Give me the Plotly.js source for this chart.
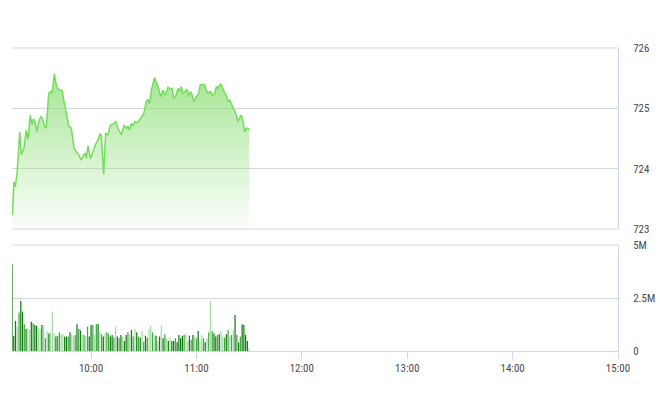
<!DOCTYPE html>
<html>
<head>
<meta charset="utf-8">
<script src="https://cdn.plot.ly/plotly-3.0.1.min.js"></script>
<style>
html,body{margin:0;padding:0;background:#fff;}
#chart{width:660px;height:412px;}
</style>
</head>
<body>
<div id="chart"></div>
<script>
// Price: minutes after 09:15, index value
const priceMinutes = [0.2,1.1,1.9,2.9,4.4,5.3,6.8,7.6,8.1,9.1,10.4,11.4,12.0,12.9,14.2,15.2,16.3,17.3,18.6,19.5,
  20.9,22.0,22.8,24.1,25.2,26.2,27.7,28.6,29.6,30.9,32.4,33.8,35.3,36.6,38.0,39.4,40.8,41.7,42.3,43.3,
  44.6,46.1,47.4,49.0,49.9,50.8,52.2,53.3,54.6,56.0,57.5,59.0,60.3,62.2,63.8,65.1,66.0,67.0,67.9,68.9,
  69.8,71.3,72.7,73.6,75.1,76.4,77.4,78.4,79.3,81.2,82.1,83.5,84.6,85.9,87.3,88.8,90.1,91.1,92.2,93.5,
  94.5,95.5,96.4,97.3,98.6,99.8,100.6,101.7,102.5,103.6,104.9,106.3,107.2,108.3,109.7,110.6,111.6,112.9,114.0,115.4,
  116.3,117.3,118.2,119.1,120.1,121.1,122.0,122.9,123.9,124.8,125.8,126.8,127.7,128.6,129.6,130.5,131.5,132.5,133.4,134.3,135.0];
const priceValues = [723.23,723.78,723.70,723.93,724.61,724.23,724.34,724.48,724.64,724.48,724.89,724.72,724.81,724.80,724.61,724.78,724.86,724.84,724.70,724.67,
  725.25,725.28,725.25,725.57,725.39,725.32,725.30,725.29,725.11,724.94,724.70,724.67,724.34,724.28,724.23,724.14,724.23,724.25,724.17,724.38,
  724.17,724.28,724.39,724.48,724.57,724.56,723.91,724.59,724.56,724.72,724.74,724.78,724.67,724.56,724.72,724.67,724.70,724.64,724.75,724.71,
  724.78,724.76,724.81,724.85,724.92,725.11,725.15,725.08,725.30,725.51,725.43,725.33,725.19,725.30,725.22,725.35,725.32,725.33,725.17,725.22,
  725.33,725.28,725.36,725.25,725.28,725.32,725.19,725.28,725.22,725.11,725.19,725.25,725.39,725.40,725.39,725.30,725.25,725.28,725.22,725.25,
  725.36,725.33,725.39,725.40,725.33,725.25,725.22,725.11,725.14,725.08,725.00,724.94,724.89,724.78,724.83,724.89,724.78,724.61,724.67,724.67,724.64];

// Volume per minute from 09:15 (millions)
const volumeM = [4.09,0.72,1.42,1.15,1.82,2.36,1.86,1.26,1.04,1.07,0.99,1.38,1.31,1.23,1.19,1.10,0.99,1.23,1.19,0.60,
  0.94,0.83,0.88,1.86,0.83,0.68,0.71,0.88,0.79,0.82,0.68,0.68,0.68,0.88,0.79,0.68,0.75,1.26,1.04,0.97,
  0.75,0.75,0.68,1.15,0.68,1.23,1.23,0.75,1.26,1.27,0.91,0.79,0.68,0.83,0.88,0.82,0.68,0.75,0.64,1.15,
  0.68,0.60,0.75,0.68,0.47,0.75,0.88,
  0.75,0.99,0.68,1.04,0.88,0.68,0.63,0.94,0.44,0.72,0.63,1.04,1.19,0.88,0.75,0.72,0.47,0.68,1.19,0.60,
  0.79,0.60,0.47,0.63,0.47,0.47,0.60,0.41,0.75,0.60,0.72,0.75,0.82,0.47,0.72,0.52,0.75,0.68,0.60,0.94,
  0.44,0.75,0.60,0.41,0.60,0.88,2.36,0.94,0.83,0.68,0.75,0.79,0.94,0.68,0.63,0.79,0.99,0.68,0.75,0.99,
  1.70,0.75,0.41,0.68,1.26,1.23,0.75,0.47,0.13];
const volumeShade = ("ddd" + "lmdd" + "mdlldmddll" + "dlmldllldmmllddmdllmdmdlmlmddmlmdlmdlmmddmld" + "mdld" +
  "dmldmldmdlmdmllmldldldmldlddmddddmlldmdlmdllm" + "dlmlmddmdllmdmlmldmdmd").split("");
const tickLabels = ["10:00","11:00","12:00","13:00","14:00","15:00"];

const shadeColors = {d:"#0f7b0f", m:"#3fa83f", l:"#a3dba3"};
function stamp(mins){
  const total = Math.round((9*60+15 + mins)*60);
  const h = Math.floor(total/3600), m = Math.floor((total%3600)/60), s = total%60;
  const p = n => String(n).padStart(2,"0");
  return "2024-01-01 " + p(h) + ":" + p(m) + ":" + p(s);
}
const px = priceMinutes.map(stamp);
const vx = volumeM.map((v,i)=>stamp(i));
const vy = volumeM.map(v=>v*1e6);
const vc = volumeM.map((v,i)=>shadeColors[volumeShade[i % volumeShade.length]] || shadeColors.d);

const font = {family:"'Liberation Sans Narrow','Roboto Condensed','DejaVu Sans Condensed',Arial,sans-serif", size:11, color:"#4a4a4a"};

const traces = [
  {x:px, y:priceValues, type:"scatter", mode:"lines", xaxis:"x", yaxis:"y",
   line:{color:"#74dd5c", width:1.5},
   fill:"tozeroy",
   fillgradient:{type:"vertical", start:723, stop:725.6,
     colorscale:[[0,"rgba(150,225,130,0.03)"],[1,"rgba(140,222,118,0.8)"]]},
   hoverinfo:"skip"},
  {x:vx, y:vy, type:"bar", xaxis:"x", yaxis:"y2", marker:{color:vc, line:{width:0}}, hoverinfo:"skip"}
];

// panel frame lines (top/bottom edges of the panels), defined in axis-domain units
const edgeLine = (yref, yv) => ({type:"line", xref:"x domain", yref:yref, x0:0, x1:1, y0:yv, y1:yv,
  line:{color:"#d6d6d6", width:1}, layer:"below"});

const layout = {
  width:660, height:412,
  margin:{l:12, r:42, t:48, b:61},
  paper_bgcolor:"#fff", plot_bgcolor:"#fff",
  showlegend:false, bargap:0.3,
  font:font,
  shapes:[edgeLine("y domain",1), edgeLine("y domain",0), edgeLine("y2 domain",1)],
  xaxis:{type:"date", anchor:"y2",
    range:["2024-01-01 09:15","2024-01-01 15:00"],
    tickvals:tickLabels.map(t=>"2024-01-01 "+t), ticktext:tickLabels,
    showgrid:false, zeroline:false,
    showline:true, linecolor:"#ccd6eb", linewidth:1,
    ticks:"outside", ticklen:7, tickcolor:"#ccd6eb", tickwidth:1,
    tickfont:font, fixedrange:true},
  yaxis:{domain:[0.4026,1], anchor:"x", side:"right", range:[723,726],
    tickvals:[723,724,725,726], ticktext:["723","724","725","726"],
    showgrid:true, gridcolor:"#d6d6d6", gridwidth:1, zeroline:false,
    showline:true, linecolor:"#ccd6eb", linewidth:1,
    ticks:"outside", ticklen:12, tickcolor:"rgba(0,0,0,0)",
    tickfont:font, fixedrange:true},
  yaxis2:{domain:[0,0.3498], anchor:"x", side:"right", range:[0,5e6],
    tickvals:[0,2.5e6,5e6], ticktext:["0","2.5M","5M"],
    showgrid:true, gridcolor:"#d6d6d6", gridwidth:1, zeroline:false,
    showline:true, linecolor:"#ccd6eb", linewidth:1,
    ticks:"outside", ticklen:12, tickcolor:"rgba(0,0,0,0)",
    tickfont:font, fixedrange:true}
};

Plotly.newPlot("chart", traces, layout, {staticPlot:true, displayModeBar:false});
</script>
</body>
</html>
